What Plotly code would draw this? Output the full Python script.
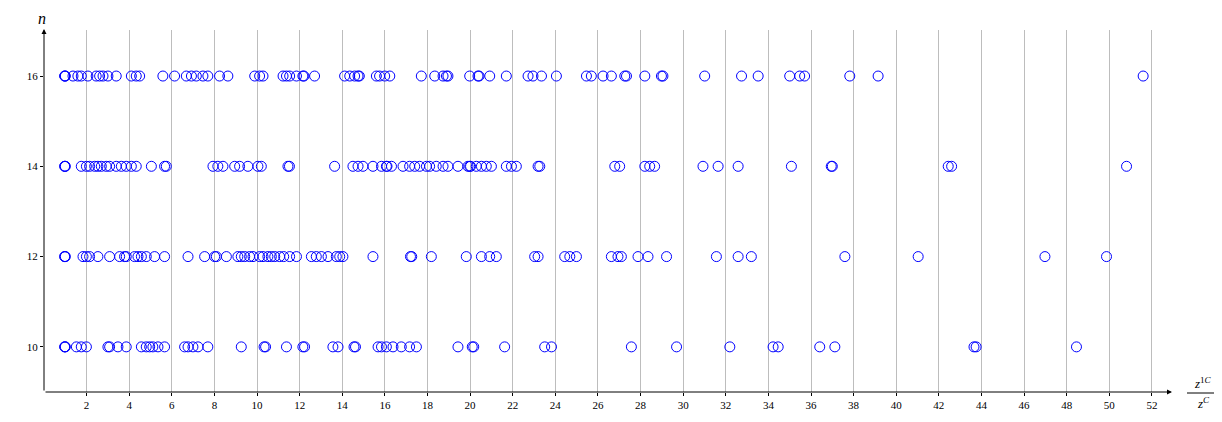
import plotly.graph_objects as go

# x values (z^{1C}/z^{C}) for each level of n
x_n16 = [0.97, 0.98, 1.0, 1.36, 1.59, 1.75, 2.06, 2.45, 2.61, 2.77, 3.0, 3.39, 4.1, 4.33, 4.49,
         5.58, 6.13, 6.68, 6.92, 7.15, 7.46, 7.69, 8.24, 8.63, 9.89, 10.12, 10.28, 11.22, 11.38,
         11.53, 11.85, 12.15, 12.2, 12.7, 14.11, 14.35, 14.58, 14.74, 14.8, 15.6, 15.75, 15.99, 16.23,
         17.71, 18.34, 18.73, 18.89, 18.96, 19.98, 20.37, 20.42, 20.92, 21.7, 22.72, 22.95, 23.35,
         24.05, 25.46, 25.69, 26.24, 26.63, 27.26, 27.34, 28.2, 28.98, 29.05, 31.01, 32.74, 33.52,
         35.0, 35.47, 35.7, 37.82, 39.15, 51.59]
x_n14 = [0.97, 0.98, 1.0, 1.75, 1.99, 2.14, 2.38, 2.53, 2.69, 2.92, 3.08, 3.39, 3.63, 3.86, 4.1,
         4.33, 5.04, 5.66, 5.74, 7.93, 8.16, 8.4, 8.95, 9.18, 9.57, 10.04, 10.2, 11.45, 11.52,
         13.64, 14.5, 14.74, 14.97, 15.44, 15.84, 16.07, 16.1, 16.31, 16.85, 17.16, 17.4, 17.63,
         17.95, 18.1, 18.41, 18.73, 18.96, 19.43, 19.9, 19.98, 20.02, 20.29, 20.53, 20.76, 21.0,
         21.7, 21.94, 22.17, 23.19, 23.27, 26.79, 27.02, 28.2, 28.43, 28.66, 30.93, 31.64,
         32.58, 35.08, 36.95, 37.0, 42.44, 42.6, 50.81]
x_n12 = [0.97, 0.98, 1.0, 1.83, 1.99, 2.14, 2.53, 3.08, 3.55, 3.78, 3.86, 4.25, 4.41, 4.57, 4.8,
         5.19, 5.66, 6.76, 7.54, 8.01, 8.09, 8.56, 9.1, 9.26, 9.42, 9.65, 9.81, 10.12, 10.28,
         10.51, 10.67, 10.83, 11.06, 11.25, 11.53, 11.85, 12.55, 12.78, 13.02, 13.33, 13.72,
         13.88, 14.03, 15.44, 17.2, 17.26, 18.18, 19.82, 20.53, 20.92, 21.23, 23.03, 23.19,
         24.44, 24.68, 24.99, 26.63, 26.94, 27.1, 27.88, 28.35, 29.22, 31.56, 32.58, 33.2,
         37.59, 41.03, 46.98, 49.87]
x_n10 = [0.97, 0.98, 1.0, 1.52, 1.75, 1.99, 3.0, 3.08, 3.47, 3.86, 4.57, 4.8, 4.96, 5.11, 5.35,
         5.66, 6.6, 6.76, 6.99, 7.23, 7.69, 9.26, 10.33, 10.4, 11.38, 12.15, 12.23, 13.56, 13.8,
         14.55, 14.62, 15.68, 15.84, 16.07, 16.38, 16.77, 17.16, 17.48, 19.43, 20.1, 20.17,
         21.62, 23.5, 23.82, 27.57, 29.69, 32.19, 34.22, 34.46, 36.41, 37.12, 43.65, 43.75, 48.46]

n_levels = [16, 14, 12, 10]
x_rows = [x_n16, x_n14, x_n12, x_n10]
x_ticks = list(range(2, 53, 2))
y_ticks = [10, 12, 14, 16]

xs, ys = [], []
for n, row in zip(n_levels, x_rows):
    xs += row
    ys += [n] * len(row)

FONT = "Liberation Serif"

fig = go.Figure()
fig.add_trace(go.Scatter(
    x=xs, y=ys, mode="markers",
    marker=dict(symbol="circle-open", size=10, color="#0000ff", line=dict(width=1, color="#0000ff")),
    showlegend=False, hoverinfo="x+y",
))

# page body has an 8px margin; work in screen pixels and compensate
OFF = 8
W, H = 1222 - OFF, 422 - OFF
SX0, SX1 = 44, 1170   # plot area left/right, screen px
SY0, SY1 = 30, 392    # plot area top/bottom, screen px
L, T = SX0 - OFF, SY0 - OFF
R, B = W - (SX1 - OFF), H - (SY1 - OFF)
pw, ph = W - L - R, H - T - B

def px(xs_):
    return (xs_ - SX0) / pw

def py(ys_):
    return (SY1 - ys_) / ph

fig.update_layout(
    width=W, height=H, autosize=False,
    margin=dict(l=L, r=R, t=T, b=B, autoexpand=False),
    paper_bgcolor="white", plot_bgcolor="white",
    font=dict(family=FONT, size=11, color="black"),
    xaxis=dict(range=[0, 52.85], tickvals=x_ticks, ticktext=[str(t) for t in x_ticks],
               showgrid=True, gridcolor="#bdbdbd", gridwidth=1, zeroline=False,
               showline=False, ticks="outside", ticklen=3, tickcolor="black",
               automargin=False, tickfont=dict(family=FONT, size=11)),
    yaxis=dict(range=[9.0, 17.02], tickvals=y_ticks, ticktext=[str(t) for t in y_ticks],
               showgrid=False, zeroline=False, showline=False,
               ticks="outside", ticklen=3, tickcolor="black",
               automargin=False, tickfont=dict(family=FONT, size=11)),
)

# axis lines with arrows
fig.add_annotation(x=px(1172), y=0, xref="paper", yref="paper",
                   ax=-(1172 - SX0), ay=0, axref="pixel", ayref="pixel",
                   showarrow=True, arrowhead=2, arrowsize=1, arrowwidth=1,
                   arrowcolor="black", text="")
fig.add_annotation(x=0, y=py(29), xref="paper", yref="paper",
                   ax=0, ay=(SY1 - 29), axref="pixel", ayref="pixel",
                   showarrow=True, arrowhead=2, arrowsize=1, arrowwidth=1,
                   arrowcolor="black", text="")

# y label
fig.add_annotation(x=px(42), y=py(18), xref="paper", yref="paper", showarrow=False,
                   xanchor="center", yanchor="middle",
                   text="<i>n</i>", font=dict(family=FONT, size=16))

# x label: fraction
fig.add_annotation(x=px(1203), y=py(383), xref="paper", yref="paper", showarrow=False,
                   xanchor="center", yanchor="middle",
                   text="<i>z</i><sup>1<i>C</i></sup>", font=dict(family=FONT, size=13))
fig.add_annotation(x=px(1203), y=py(403), xref="paper", yref="paper", showarrow=False,
                   xanchor="center", yanchor="middle",
                   text="<i>z</i><sup><i>C</i></sup>", font=dict(family=FONT, size=13))
fig.add_shape(type="line", xref="paper", yref="paper", x0=px(1187), x1=px(1219),
              y0=py(393), y1=py(393), line=dict(color="black", width=1))

fig.write_html("out.html")
